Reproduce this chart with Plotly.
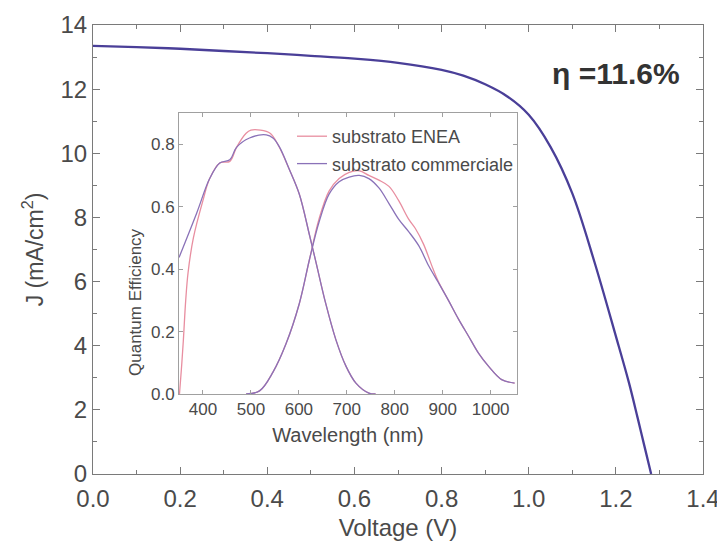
import plotly.graph_objects as go

# Main J-V curve
voltage = [0.0, 0.1, 0.2, 0.3, 0.4, 0.5, 0.6, 0.7, 0.8, 0.85, 0.9, 0.95, 1.0, 1.05, 1.1, 1.15, 1.2, 1.23, 1.25, 1.265, 1.281]
current = [13.35, 13.31, 13.26, 13.19, 13.12, 13.04, 12.95, 12.82, 12.6, 12.42, 12.15, 11.78, 11.2, 10.2, 8.75, 6.65, 4.3, 2.85, 1.75, 0.9, 0.0]

# Inset QE: top cell
wl_top_com = [350, 387, 414, 435, 456, 470, 497, 532, 546, 560, 580, 601, 622, 636, 656, 677, 698, 719, 746, 760]
qe_top_com = [0.437, 0.58, 0.69, 0.74, 0.75, 0.79, 0.82, 0.83, 0.82, 0.79, 0.72, 0.64, 0.51, 0.42, 0.29, 0.175, 0.09, 0.035, 0.003, 0.0]
wl_top_enea = [351, 355, 359, 364, 369, 380, 400, 414, 435, 456, 470, 490, 500, 520, 540, 556, 580, 601, 622, 636, 656, 677, 698, 719, 746, 760]
qe_top_enea = [0.0, 0.08, 0.17, 0.3, 0.39, 0.5, 0.62, 0.69, 0.74, 0.745, 0.79, 0.835, 0.845, 0.845, 0.835, 0.8, 0.72, 0.64, 0.51, 0.42, 0.29, 0.175, 0.09, 0.035, 0.003, 0.0]

# Inset QE: bottom cell
wl_bot_com = [490, 518, 546, 573, 601, 622, 642, 663, 684, 705, 726, 746, 767, 788, 808, 829, 850, 871, 891, 912, 933, 954, 975, 995, 1023, 1050]
qe_bot_com = [0.0, 0.01, 0.07, 0.16, 0.29, 0.43, 0.55, 0.64, 0.68, 0.695, 0.70, 0.69, 0.66, 0.61, 0.56, 0.52, 0.475, 0.41, 0.357, 0.30, 0.24, 0.185, 0.13, 0.09, 0.046, 0.035]
wl_bot_enea = [490, 518, 546, 573, 601, 622, 642, 663, 684, 705, 726, 746, 767, 788, 808, 829, 843, 860, 880, 891, 912, 933, 954, 975, 995, 1023, 1050]
qe_bot_enea = [0.0, 0.01, 0.07, 0.16, 0.29, 0.43, 0.56, 0.65, 0.69, 0.71, 0.715, 0.70, 0.685, 0.665, 0.62, 0.56, 0.53, 0.48, 0.40, 0.36, 0.30, 0.24, 0.185, 0.13, 0.09, 0.046, 0.035]

main_color = "#4a3f98"
enea_color = "#e88ea0"
com_color = "#8a72b8"
axis_color = "#7a7a7a"
inset_axis_color = "#a0a0a0"
text_color = "#4a4a4a"
font_family = "Liberation Sans, Arial, sans-serif"

fig = go.Figure()
fig.add_trace(go.Scatter(x=voltage, y=current, mode="lines", line=dict(color=main_color, width=2.3, shape="spline"),
                         showlegend=False, xaxis="x", yaxis="y"))

fig.add_trace(go.Scatter(x=wl_top_enea, y=qe_top_enea, mode="lines", name="substrato ENEA",
                         line=dict(color=enea_color, width=1.3, shape="spline"), xaxis="x2", yaxis="y2", legendgroup="e"))
fig.add_trace(go.Scatter(x=wl_bot_enea, y=qe_bot_enea, mode="lines", name="substrato ENEA", showlegend=False,
                         line=dict(color=enea_color, width=1.3, shape="spline"), xaxis="x2", yaxis="y2", legendgroup="e"))
fig.add_trace(go.Scatter(x=wl_top_com, y=qe_top_com, mode="lines", name="substrato commerciale",
                         line=dict(color=com_color, width=1.3, shape="spline"), xaxis="x2", yaxis="y2", legendgroup="c"))
fig.add_trace(go.Scatter(x=wl_bot_com, y=qe_bot_com, mode="lines", name="substrato commerciale", showlegend=False,
                         line=dict(color=com_color, width=1.3, shape="spline"), xaxis="x2", yaxis="y2", legendgroup="c"))

# page body adds an 8px offset; work in reference pixels and shift
OFF = 8
W, H = 725 - OFF, 548 - OFF
L, R, T, B = 93, 703, 25, 474  # main plot area in reference pixels
ml, mr, mt, mb = L - OFF, W - (R - OFF), T - OFF, H - (B - OFF)

def px_x(px):
    return (px - L) / (R - L)

def px_y(py):
    return (B - py) / (B - T)

fig.update_layout(
    width=W, height=H,
    margin=dict(l=ml, r=mr, t=mt, b=mb, autoexpand=False),
    paper_bgcolor="white", plot_bgcolor="white",
    font=dict(family=font_family, color=text_color),
    xaxis=dict(range=[0, 1.4], dtick=0.2, tickformat=".1f", showgrid=False, zeroline=False, automargin=False,
               showline=True, linecolor=axis_color, linewidth=1.2, mirror="allticks",
               ticks="inside", ticklen=7, tickwidth=1, tickcolor=axis_color,
               minor=dict(ticks="inside", dtick=0.1, ticklen=4, tickcolor=axis_color),
               tickfont=dict(size=24, color=text_color), ticklabelstandoff=3,
               title=dict(text="Voltage (V)", font=dict(size=24, color=text_color), standoff=8)),
    yaxis=dict(range=[0, 14], dtick=2, showgrid=False, zeroline=False, automargin=False,
               showline=True, linecolor=axis_color, linewidth=1.2, mirror="allticks",
               ticks="inside", ticklen=7, tickwidth=1, tickcolor=axis_color,
               minor=dict(ticks="inside", dtick=1, ticklen=4, tickcolor=axis_color),
               tickfont=dict(size=24, color=text_color),
               title=dict(text="J (mA/cm<sup>2</sup>)", font=dict(size=23, color=text_color), standoff=10)),
    xaxis2=dict(domain=[px_x(179), px_x(517)], anchor="y2", range=[350, 1055], automargin=False,
                tickvals=[400, 500, 600, 700, 800, 900, 1000],
                showgrid=False, zeroline=False, showline=True, linecolor=inset_axis_color, linewidth=1,
                mirror="allticks", ticks="inside", ticklen=4, tickcolor=inset_axis_color,
                tickfont=dict(size=17, color=text_color),
                title=dict(text="Wavelength (nm)", font=dict(size=20, color=text_color), standoff=9)),
    yaxis2=dict(domain=[px_y(394), px_y(113)], anchor="x2", range=[0, 0.9], automargin=False,
                tickvals=[0.0, 0.2, 0.4, 0.6, 0.8], tickformat=".1f",
                showgrid=False, zeroline=False, showline=True, linecolor=inset_axis_color, linewidth=1,
                mirror="allticks", ticks="inside", ticklen=4, tickcolor=inset_axis_color,
                tickfont=dict(size=17, color=text_color), ticklabelstandoff=0),
    legend=dict(x=px_x(292), y=px_y(118), xanchor="left", yanchor="top",
                bgcolor="rgba(0,0,0,0)", borderwidth=0,
                font=dict(size=18, color=text_color), tracegroupgap=1),
    annotations=[
        dict(x=1.2, y=12.5, xref="x", yref="y", text="<b>η =11.6%</b>", showarrow=False,
             font=dict(size=30, color="#333333")),
        dict(x=px_x(136), y=px_y(302), xref="paper", yref="paper", text="Quantum Efficiency",
             xanchor="center", yanchor="middle",
             textangle=-90, showarrow=False, font=dict(size=17, color=text_color)),
    ],
)

fig.write_html("out.html")
